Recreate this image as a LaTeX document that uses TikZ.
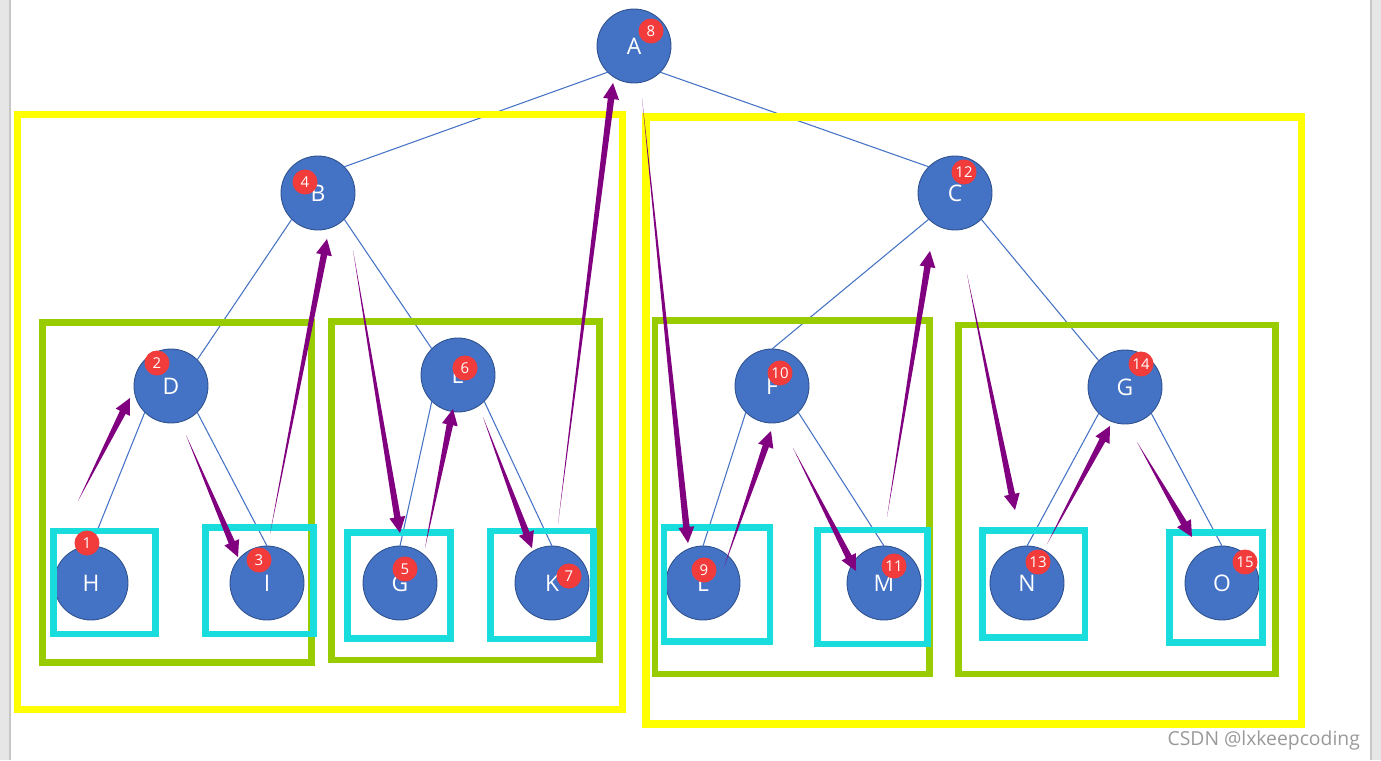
\documentclass[tikz,border=0pt]{standalone}
\usepackage{fontspec}
\setmainfont{Open Sans}
\usetikzlibrary{calc}

\definecolor{nodeblue}{HTML}{4472C4}
\definecolor{nodeline}{HTML}{2F528F}
\definecolor{badgered}{HTML}{F23B3B}
\definecolor{boxyellow}{HTML}{FFFF00}
\definecolor{boxgreen}{HTML}{99CC00}
\definecolor{boxcyan}{HTML}{19DCDC}
\definecolor{walkpurple}{HTML}{800080}
\definecolor{sidegrey}{HTML}{E6E6E6}
\definecolor{sideline}{HTML}{C6C6C6}

\begin{document}
\begin{tikzpicture}[x=0.02cm, y=-0.02cm,
  treenode/.style={circle, fill=nodeblue, draw=nodeline, line width=0.5pt,
    minimum size=1.48cm, inner sep=0pt, outer sep=0pt, text=white,
    font=\fontsize{13}{15}\selectfont},
  badge/.style={circle, fill=badgered, minimum size=0.5cm, inner sep=0pt,
    text=white, font=\fontsize{8.5}{9}\selectfont},
  treeedge/.style={nodeblue, line width=0.6pt},
  yellowbox/.style={draw=boxyellow, line width=4pt},
  greenbox/.style={draw=boxgreen, line width=3.7pt},
  cyanbox/.style={draw=boxcyan, line width=3.7pt}]
  \useasboundingbox (0,0) rectangle (1381,760);
  \fill[sidegrey] (0,0) rectangle (10,760);
  \fill[sidegrey] (1371,0) rectangle (1381,760);
  \draw[sideline, line width=0.6pt] (10,0) -- (10,760) (1371,0) -- (1371,760);

  % tree
  \node[treenode] (A) at (634,46) {A};
  \node[treenode] (B) at (318,193) {B};
  \node[treenode] (C) at (955,193) {C};
  \node[treenode] (D) at (171,386) {D};
  \node[treenode] (E) at (458,375) {E};
  \node[treenode] (F) at (772,386) {F};
  \node[treenode] (G) at (1125,387) {G};
  \node[treenode] (H) at (91,583) {H};
  \node[treenode] (I) at (267,583) {I};
  \node[treenode] (J) at (400,583) {G};
  \node[treenode] (K) at (552,583) {K};
  \node[treenode] (L) at (703,583) {L};
  \node[treenode] (M) at (884,583) {M};
  \node[treenode] (N) at (1027,583) {N};
  \node[treenode] (O) at (1222,583) {O};
  \foreach \p/\c in {A.south west/B.north east, A.south east/C.north west,
      B.south west/D.north east, B.south east/E.north west,
      C.south west/F.north, C.south east/G.north west,
      D.south west/H.north, D.south east/I.north,
      E.south west/J.north, E.south east/K.north,
      F.south west/L.north, F.south east/M.north,
      G.south west/N.north, G.south east/O.north}
    \draw[treeedge] (\p) -- (\c);

  % groups
  \draw[yellowbox] (17.5,114.5) rectangle (622.5,709.5);
  \draw[yellowbox] (646,117) rectangle (1301.5,724);
  \draw[greenbox] (42.5,322.5) rectangle (311.5,662.5);
  \draw[greenbox] (331.5,321.5) rectangle (599.5,660);
  \draw[greenbox] (655,320.5) rectangle (929.5,674);
  \draw[greenbox] (958.5,325) rectangle (1275.5,674);
  \draw[cyanbox] (53.5,531) rectangle (155.5,634);
  \draw[cyanbox] (205.5,527.5) rectangle (313.5,634);
  \draw[cyanbox] (347.5,532.5) rectangle (450.5,638.5);
  \draw[cyanbox] (490.5,531) rectangle (593.5,639);
  \draw[cyanbox] (664,527.5) rectangle (770,641.5);
  \draw[cyanbox] (817.5,530) rectangle (927.5,644);
  \draw[cyanbox] (982.5,530.5) rectangle (1085,637.5);
  \draw[cyanbox] (1169.5,532.5) rectangle (1262.5,642.5);

  % walk
  \coordinate (t1) at (78,501);   \coordinate (h1) at (130,398);
  \coordinate (t2) at (186,435);  \coordinate (h2) at (238,557);
  \coordinate (t3) at (270,534);  \coordinate (h3) at (327,239);
  \coordinate (t4) at (353,250);  \coordinate (h4) at (400,533);
  \coordinate (t5) at (425,548);  \coordinate (h5) at (453,409);
  \coordinate (t6) at (483,417);  \coordinate (h6) at (532,548);
  \coordinate (t7) at (558,524);  \coordinate (h7) at (613,83);
  \coordinate (t8) at (642,98);   \coordinate (h8) at (688,543);
  \coordinate (t9) at (724,567);  \coordinate (h9) at (771,431);
  \coordinate (t10) at (793,448); \coordinate (h10) at (856,571);
  \coordinate (t11) at (887,517); \coordinate (h11) at (930,251);
  \coordinate (t12) at (967,274); \coordinate (h12) at (1015,510);
  \coordinate (t13) at (1047,544);\coordinate (h13) at (1110,426);
  \coordinate (t14) at (1137,442);\coordinate (h14) at (1192,537);
  \foreach \i in {1,...,14} {
    \coordinate (hb) at ($(h\i)!0.32cm!(t\i)$);
    \fill[walkpurple] (t\i) -- ($(hb)!0.065cm!90:(h\i)$) -- ($(hb)!0.16cm!90:(h\i)$)
      -- (h\i) -- ($(hb)!0.16cm!-90:(h\i)$) -- ($(hb)!0.065cm!-90:(h\i)$) -- cycle;
  }

  % order
  \foreach \n/\x/\y in {1/87/543, 2/157/363, 3/259/560, 4/305/182, 5/405/569,
      6/465/368, 7/569/576, 8/651/31, 9/704/570, 10/780/373, 11/894/566,
      12/964/172, 13/1038/562, 14/1141/364, 15/1245/562}
    \node[badge] (b\n) at (\x,\y) {\n};

  \node[anchor=east, text=black!40, font=\fontsize{11}{13}\selectfont] (mark)
    at (1366,740) {CSDN @lxkeepcoding};
\end{tikzpicture}
\end{document}
